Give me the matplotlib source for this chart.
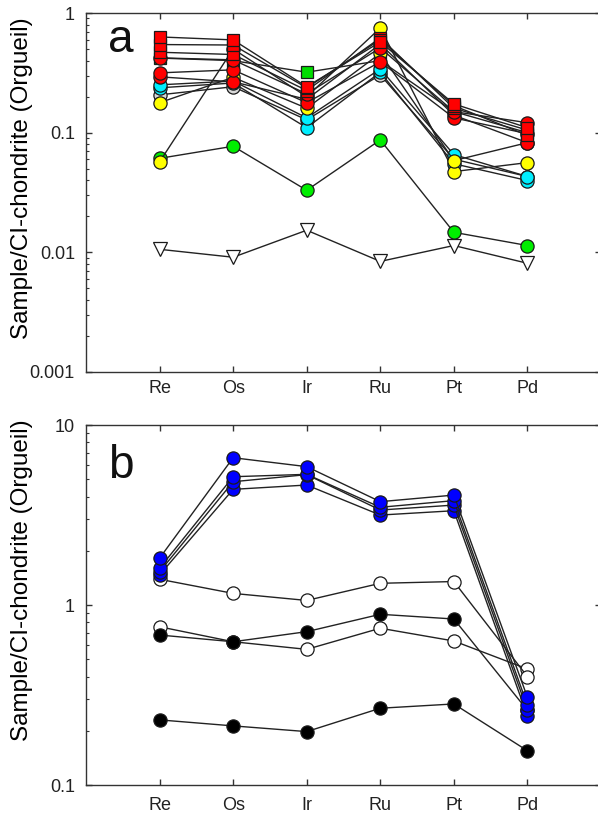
import numpy as np
import matplotlib
matplotlib.use('Agg')
import matplotlib.pyplot as plt
from matplotlib.ticker import LogLocator, NullFormatter

plt.rcParams['font.family'] = ['Liberation Sans', 'DejaVu Sans']

elements = ['Re', 'Os', 'Ir', 'Ru', 'Pt', 'Pd']

# ---- panel a : Sample / CI (Orgueil) ----
white_a = [0.207, 0.242, 0.128, 0.304, 0.060, 0.043]
cyan_a1 = [0.251, 0.270, 0.133, 0.341, 0.0656, 0.043]
cyan_a2 = [0.237, 0.260, 0.110, 0.320, 0.055, 0.0398]
green_sq = [0.420, 0.400, 0.320, 0.400, 0.150, 0.100]
yellow_a1 = [0.178, 0.290, 0.160, 0.460, 0.0584, 0.0825]
yellow_a2 = [0.057, 0.500, 0.200, 0.750, 0.0473, 0.0562]
green_a = [0.061, 0.077, 0.033, 0.087, 0.0147, 0.0114]
triangle_a = [0.0106, 0.0091, 0.0153, 0.0084, 0.0114, 0.0081]
red_c1 = [0.422, 0.406, 0.211, 0.511, 0.150, 0.121]
red_c2 = [0.316, 0.335, 0.178, 0.391, 0.133, 0.098]
red_c3 = [0.293, 0.266, 0.190, 0.550, 0.140, 0.0825]
red_s1 = [0.631, 0.596, 0.242, 0.573, 0.174, 0.110]
red_s2 = [0.545, 0.540, 0.237, 0.600, 0.168, 0.095]
red_s3 = [0.470, 0.450, 0.225, 0.620, 0.160, 0.105]

# ---- panel b ----
blue_b1 = [1.82, 6.58, 5.87, 3.75, 4.08, 0.307]
blue_b2 = [1.60, 5.16, 5.32, 3.49, 3.80, 0.278]
blue_b3 = [1.53, 4.84, 5.30, 3.37, 3.59, 0.261]
blue_b4 = [1.47, 4.39, 4.64, 3.16, 3.34, 0.242]
white_b1 = [1.39, 1.16, 1.06, 1.32, 1.35, 0.40]
white_b2 = [0.757, 0.625, 0.567, 0.743, 0.631, 0.441]
black_b1 = [0.681, 0.625, 0.711, 0.888, 0.836, 0.26]
black_b2 = [0.230, 0.213, 0.198, 0.267, 0.282, 0.155]

W, H = 598, 814
fig = plt.figure(figsize=(W / 100, H / 100), dpi=100)

line_col = '#222222'
edge_col = '#1a1a1a'


def add_panel(top_px, bot_px):
    # right spine sits just outside the picture, like the cropped original
    ax = fig.add_axes([86 / W, 1 - bot_px / H, (601 - 86) / W, (bot_px - top_px) / H])
    ax.set_yscale('log')
    ax.set_xlim(0, 7)
    for s in ax.spines.values():
        s.set_linewidth(1.0)
        s.set_color('#333333')
    ax.set_xticks(np.arange(1, 7))
    ax.set_xticklabels(elements, fontsize=13)
    ax.yaxis.set_minor_locator(LogLocator(base=10, subs=np.arange(2, 10)))
    ax.yaxis.set_minor_formatter(NullFormatter())
    ax.tick_params(which='both', direction='in', top=True, right=True, colors='#333333',
                   labelcolor='#222222', labelsize=13)
    ax.tick_params(which='major', length=4, width=1)
    ax.tick_params(which='minor', length=2, width=0.8)
    return ax


def draw(ax, vals, marker, color, ms):
    x = np.arange(1, len(vals) + 1)
    ax.plot(x, vals, '-', color=line_col, lw=1.0, marker=marker, ms=ms,
            mfc=color, mec=edge_col, mew=0.9)


# ==== panel a ====
ax1 = add_panel(13, 372)
ax1.set_ylim(0.001, 1)
ax1.set_yticks([0.001, 0.01, 0.1, 1])
ax1.set_yticklabels(['0.001', '0.01', '0.1', '1'])
ax1.tick_params(axis='y', which='major', pad=8)
ax1.tick_params(axis='x', which='major', pad=6)

draw(ax1, triangle_a, 'v', 'white', 10)
draw(ax1, green_a, 'o', '#00ee00', 9.5)
draw(ax1, white_a, 'o', '#d8d8d8', 9.5)
draw(ax1, green_sq, 's', '#00dd00', 8.5)
draw(ax1, cyan_a2, 'o', '#00eeff', 9.5)
draw(ax1, cyan_a1, 'o', '#00eeff', 9.5)
draw(ax1, yellow_a2, 'o', '#ffff00', 9.5)
draw(ax1, yellow_a1, 'o', '#ffff00', 9.5)
draw(ax1, red_c3, 'o', '#ff0000', 9.5)
draw(ax1, red_c2, 'o', '#ff0000', 9.5)
draw(ax1, red_c1, 'o', '#ff0000', 9.5)
draw(ax1, red_s3, 's', '#ff0000', 8.5)
draw(ax1, red_s2, 's', '#ff0000', 8.5)
draw(ax1, red_s1, 's', '#ff0000', 8.5)

ax1.set_ylabel('Sample/CI-chondrite (Orgueil)', fontsize=17.5)
ax1.yaxis.set_label_coords(-0.103, 0.54)
fig.text(108 / W, 1 - 40 / H, 'a', fontsize=33, va='center', ha='left', color='#111111')

# ==== panel b ====
ax2 = add_panel(425, 785)
ax2.set_ylim(0.1, 10)
ax2.set_yticks([0.1, 1, 10])
ax2.set_yticklabels(['0.1', '1', '10'])
ax2.tick_params(axis='y', which='major', pad=8)
ax2.tick_params(axis='x', which='major', pad=9)

draw(ax2, black_b2, 'o', 'black', 9.5)
draw(ax2, white_b2, 'o', 'white', 9.5)
draw(ax2, black_b1, 'o', 'black', 9.5)
draw(ax2, white_b1, 'o', 'white', 9.5)
draw(ax2, blue_b4, 'o', '#0000ff', 9.5)
draw(ax2, blue_b3, 'o', '#0000ff', 9.5)
draw(ax2, blue_b2, 'o', '#0000ff', 9.5)
draw(ax2, blue_b1, 'o', '#0000ff', 9.5)

ax2.set_ylabel('Sample/CI-chondrite (Orgueil)', fontsize=17.5)
ax2.yaxis.set_label_coords(-0.103, 0.57)
fig.text(108 / W, 1 - 466 / H, 'b', fontsize=33, va='center', ha='left', color='#111111')

fig.savefig('out.png', dpi=100)
